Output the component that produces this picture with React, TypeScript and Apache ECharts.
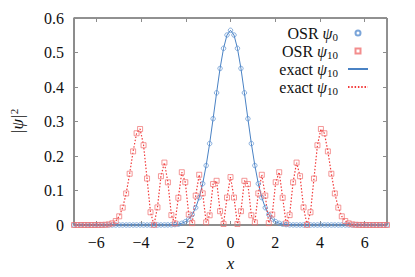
import React, { useEffect, useRef } from 'react';
import * as echarts from 'echarts';

// x grid of the OSR samples (91 points on [-7, 7])
const xs = [
  -7, -6.844, -6.689, -6.533, -6.378, -6.222, -6.067, -5.911, -5.756, -5.6,
  -5.444, -5.289, -5.133, -4.978, -4.822, -4.667, -4.511, -4.356, -4.2, -4.044,
  -3.889, -3.733, -3.578, -3.422, -3.267, -3.111, -2.956, -2.8, -2.644, -2.489,
  -2.333, -2.178, -2.022, -1.867, -1.711, -1.556, -1.4, -1.244, -1.089, -0.933,
  -0.778, -0.622, -0.467, -0.311, -0.156, 0, 0.156, 0.311, 0.467, 0.622,
  0.778, 0.933, 1.089, 1.244, 1.4, 1.556, 1.711, 1.867, 2.022, 2.178,
  2.333, 2.489, 2.644, 2.8, 2.956, 3.111, 3.267, 3.422, 3.578, 3.733,
  3.889, 4.044, 4.2, 4.356, 4.511, 4.667, 4.822, 4.978, 5.133, 5.289,
  5.444, 5.6, 5.756, 5.911, 6.067, 6.222, 6.378, 6.533, 6.689, 6.844, 7,
];

// |psi_0|^2 read at the sample points
const psi0 = [
  0, 0, 0, 0, 0, 0, 0, 0, 0, 0,
  0, 0, 0, 0, 0, 0, 0, 0, 0, 0,
  0, 0, 0, 0, 0, 0, 0.0001, 0.0002, 0.0005, 0.0012,
  0.0024, 0.0049, 0.0095, 0.0173, 0.0302, 0.0502, 0.0795, 0.1199, 0.1724, 0.2361,
  0.3081, 0.3831, 0.4538, 0.5121, 0.5507, 0.5642, 0.5507, 0.5121, 0.4538, 0.3831,
  0.3081, 0.2361, 0.1724, 0.1199, 0.0795, 0.0502, 0.0302, 0.0173, 0.0095, 0.0049,
  0.0024, 0.0012, 0.0005, 0.0002, 0.0001, 0, 0, 0, 0, 0,
  0, 0, 0, 0, 0, 0, 0, 0, 0, 0,
  0, 0, 0, 0, 0, 0, 0, 0, 0, 0, 0,
];

// |psi_10|^2 read at the sample points
const psi10 = [
  0, 0, 0, 0, 0, 0, 0, 0.0001, 0.0002, 0.0007,
  0.0018, 0.0048, 0.0115, 0.0252, 0.0504, 0.0914, 0.1486, 0.2134, 0.2659, 0.2783,
  0.2312, 0.1347, 0.0369, 0.0004, 0.051, 0.1414, 0.1809, 0.1236, 0.0286, 0.0046,
  0.079, 0.1529, 0.124, 0.0304, 0.0055, 0.0851, 0.1456, 0.0917, 0.0076, 0.0282,
  0.1187, 0.1281, 0.04, 0.0029, 0.0795, 0.1388, 0.0795, 0.0029, 0.04, 0.1281,
  0.1187, 0.0282, 0.0076, 0.0917, 0.1456, 0.0851, 0.0055, 0.0304, 0.124, 0.1529,
  0.079, 0.0046, 0.0286, 0.1236, 0.1809, 0.1414, 0.051, 0.0004, 0.0369, 0.1347,
  0.2312, 0.2783, 0.2659, 0.2134, 0.1486, 0.0914, 0.0504, 0.0252, 0.0115, 0.0048,
  0.0018, 0.0007, 0.0002, 0.0001, 0, 0, 0, 0, 0, 0, 0,
];

const legendLabels: Record<string, string> = {
  osr0: '{n|OSR }{g|ψ}{s|0}{gap| }',
  osr10: '{n|OSR }{g|ψ}{s|10}{gap| }',
  exact0: '{n|exact }{g|ψ}{s|10}{gap| }',
  exact10: '{n|exact }{g|ψ}{s|10}{gap| }',
};

const SERIF = 'Liberation Serif';
const BLUE = '#4a82c4';
const BLUE_MK = '#5a8fd0';
const RED = '#f23a3a';
const RED_MK = '#f07070';
const TICK = '#8c8c8c';
const HIDDEN = { color: 'rgba(0,0,0,0)', borderColor: 'rgba(0,0,0,0)', borderWidth: 0 };

export default function App() {
  const ref = useRef<HTMLDivElement>(null);
  useEffect(() => {
    if (!ref.current) return;
    const chart = echarts.init(ref.current, undefined, { renderer: 'svg' });
    const d0 = xs.map((x, i) => [x, psi0[i]]);
    const d10 = xs.map((x, i) => [x, psi10[i]]);
    const minus = (v: number) => String(v).replace('-', '\u2212');
    const rich = {
      n: { fontFamily: SERIF, fontSize: 16, lineHeight: 15.5, color: '#111' },
      g: { fontFamily: SERIF, fontSize: 16, fontStyle: 'italic', lineHeight: 15.5, color: '#111' },
      s: { fontFamily: SERIF, fontSize: 11, lineHeight: 15.5, padding: [7, 0, 0, 0], color: '#111' },
      gap: { width: 5, lineHeight: 15.5 },
    };
    const xCommon = {
      type: 'value',
      min: -7,
      max: 7,
      splitNumber: 7,
      minInterval: 2,
      maxInterval: 2,
      splitLine: { show: false },
    };
    const yCommon = {
      type: 'value',
      min: 0,
      max: 0.6,
      interval: 0.1,
      splitLine: { show: false },
    };
    chart.setOption({
      animation: false,
      textStyle: { fontFamily: SERIF },
      grid: {
        left: 66, right: 28, top: 18, bottom: 50,
        show: true, borderColor: '#222', borderWidth: 1, backgroundColor: 'transparent',
      },
      xAxis: [
        {
          ...xCommon,
          position: 'bottom',
          axisLine: { show: true, onZero: false, lineStyle: { color: TICK, width: 1.6 } },
          axisTick: { show: true, inside: true, length: 4, lineStyle: { color: TICK, width: 1 } },
          axisLabel: {
            showMinLabel: false, showMaxLabel: false, margin: 9,
            fontFamily: SERIF, fontSize: 16, color: '#111', formatter: minus,
          },
          name: 'x',
          nameLocation: 'middle',
          nameGap: 30,
          nameTextStyle: { fontFamily: SERIF, fontStyle: 'italic', fontSize: 17, color: '#111' },
        },
        {
          ...xCommon,
          position: 'top',
          axisLine: { show: false, onZero: false },
          axisTick: { show: true, inside: true, length: 4, lineStyle: { color: TICK, width: 1 } },
          axisLabel: { show: false },
        },
      ],
      yAxis: [
        {
          ...yCommon,
          position: 'left',
          axisLine: { show: true, onZero: false, lineStyle: { color: TICK, width: 1.6 } },
          axisTick: { show: true, inside: true, length: 4, lineStyle: { color: TICK, width: 1 } },
          axisLabel: { margin: 10, fontFamily: SERIF, fontSize: 16, color: '#111' },
          name: '{a||ψ|}{b|2}',
          nameLocation: 'middle',
          nameGap: 48,
          nameTextStyle: {
            fontFamily: SERIF, fontSize: 16, color: '#111',
            rich: {
              a: { fontFamily: SERIF, fontSize: 17, fontStyle: 'italic', lineHeight: 17, color: '#111' },
              b: { fontFamily: SERIF, fontSize: 11, lineHeight: 17, padding: [0, 0, 8, 0], color: '#111' },
            },
          },
        },
        {
          ...yCommon,
          position: 'right',
          axisLine: { show: false, onZero: false },
          axisTick: { show: true, inside: true, length: 4, lineStyle: { color: TICK, width: 1 } },
          axisLabel: { show: false },
        },
      ],
      legend: {
        data: [
          { name: 'osr0', icon: 'path://M10,5A5,5,0,1,1,0,5A5,5,0,1,1,10,5Z' },
          { name: 'osr10', icon: 'path://M0,0L10,0L10,10L0,10Z' },
          { name: 'exact0', itemStyle: HIDDEN },
          { name: 'exact10', itemStyle: HIDDEN },
        ],
        orient: 'vertical',
        align: 'right',
        right: 46,
        top: 24,
        padding: 0,
        itemWidth: 20,
        itemHeight: 5,
        itemGap: 0,
        symbolKeepAspect: true,
        selectedMode: false,
        formatter: (name: string) => legendLabels[name],
        textStyle: { fontFamily: SERIF, fontSize: 16, lineHeight: 15.5, color: '#111', rich },
      },
      series: [
        {
          name: 'exact0', type: 'line', data: d0, symbol: 'none', z: 2,
          lineStyle: { color: BLUE, width: 1 }, itemStyle: { color: BLUE },
        },
        {
          name: 'exact10', type: 'line', data: d10, symbol: 'none', z: 2,
          lineStyle: { color: RED, width: 1.2, type: [1.5, 1.8] }, itemStyle: { color: RED },
        },
        {
          name: 'osr0', type: 'scatter', data: d0, symbol: 'circle', symbolSize: 4.5, z: 3,
          itemStyle: { color: 'rgba(0,0,0,0)', borderColor: BLUE_MK, borderWidth: 0.9 },
        },
        {
          name: 'osr10', type: 'scatter', data: d10, symbol: 'rect', symbolSize: 5, z: 3,
          itemStyle: { color: 'rgba(0,0,0,0)', borderColor: RED_MK, borderWidth: 0.9 },
        },
      ],
    });
    return () => chart.dispose();
  }, []);
  return (
    <div
      ref={ref}
      style={{ position: 'fixed', left: 0, top: 0, width: 415, height: 277, background: '#fff' }}
    />
  );
}
